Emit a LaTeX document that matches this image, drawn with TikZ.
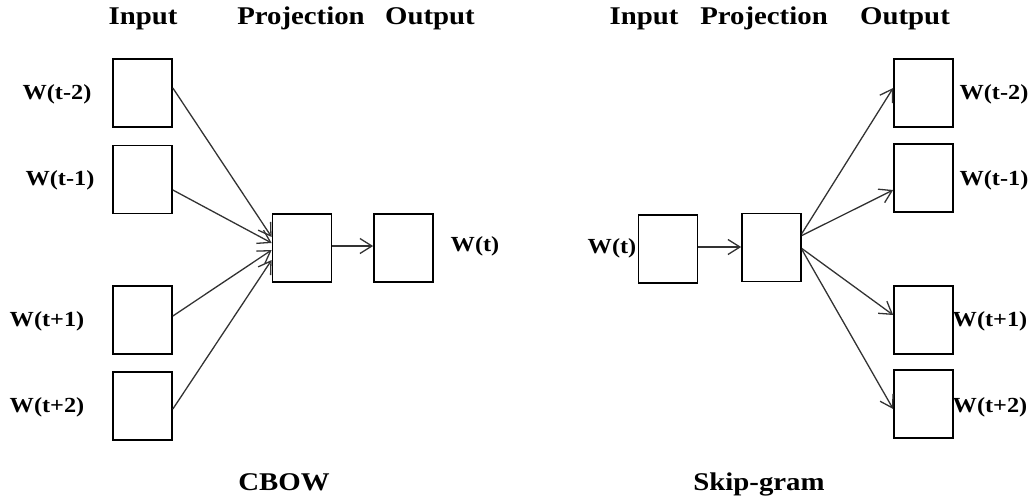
\documentclass[tikz,border=0pt]{standalone}
\usepackage{fontspec}
\setmainfont{Liberation Serif}
\usetikzlibrary{arrows.meta,calc}
\newcommand{\headtxt}[1]{\scalebox{1.13}[1]{\fontsize{25.5}{28}\selectfont\bfseries #1}}
\newcommand{\wordtxt}[1]{\scalebox{1.13}[1]{\fontsize{21.5}{24}\selectfont\bfseries #1}}
\begin{document}
\begin{tikzpicture}[x=1pt,y=-1pt,
  unit/.style={draw=black,line width=1.7pt,rectangle,inner sep=0pt,
    minimum width=59pt,minimum height=68pt},
  head/.style={anchor=base,inner sep=0pt},
  word/.style={anchor=base,inner sep=0pt},
  link/.style={draw=black!80,line width=1.3pt,
    -{Straight Barb[length=12pt,width=15pt,line width=1.3pt]}}]
\useasboundingbox (0,0) rectangle (1032,501);

% ---------------- CBOW ----------------
\node[head] (hin)   at (143,24) {\headtxt{Input}};
\node[head] (hproj) at (301,24) {\headtxt{Projection}};
\node[head] (hout)  at (430,24) {\headtxt{Output}};

\node[unit] (i1) at (142.5,93)  {};
\node[unit] (i2) at (142.5,179.5) {};
\node[unit] (i3) at (142.5,320) {};
\node[unit] (i4) at (142.5,406) {};
\node[unit] (p)  at (302,248)   {};
\node[unit] (o)  at (403.5,248) {};

\node[word] (li1) at (57,99)  {\wordtxt{W(t-2)}};
\node[word] (li2) at (60,185) {\wordtxt{W(t-1)}};
\node[word] (li3) at (47,326) {\wordtxt{W(t+1)}};
\node[word] (li4) at (47,412) {\wordtxt{W(t+2)}};
\node[word] (lo)  at (475,251) {\wordtxt{W(t)}};

\draw[link] ($(i1.east)+(0,-5)$)   -- ($(p.west)+(0,-11)$);
\draw[link] ($(i2.east)+(0,10.5)$) -- ($(p.west)+(0,-5)$);
\draw[link] ($(i3.east)+(0,-4)$)   -- ($(p.west)+(0,2)$);
\draw[link] ($(i4.east)+(0,3)$)    -- ($(p.west)+(0,12)$);
\draw[link] ($(p.east)+(0,-2)$)    -- ($(o.west)+(0,-2)$);

\node[head] (cbow) at (284,490) {\headtxt{CBOW}};

% ---------------- Skip-gram ----------------
\node[head] (sin)   at (644,24) {\headtxt{Input}};
\node[head] (sproj) at (764,24) {\headtxt{Projection}};
\node[head] (sout)  at (905,24) {\headtxt{Output}};

\node[unit] (w)  at (668,249)   {};
\node[unit] (q)  at (771.5,247.5) {};
\node[unit] (s1) at (923.5,93)  {};
\node[unit] (s2) at (923.5,178) {};
\node[unit] (s3) at (923.5,320) {};
\node[unit] (s4) at (923.5,404) {};

\node[word] (lw)  at (612,253) {\wordtxt{W(t)}};
\node[word] (ls1) at (994,99)  {\wordtxt{W(t-2)}};
\node[word] (ls2) at (994,185) {\wordtxt{W(t-1)}};
\node[word] (ls3) at (990,326) {\wordtxt{W(t+1)}};
\node[word] (ls4) at (990,412) {\wordtxt{W(t+2)}};

\draw[link] ($(w.east)+(0,-2)$)   -- ($(q.west)+(0,-0.5)$);
\draw[link] ($(q.east)+(0,-14)$)  -- ($(s1.west)+(0,-5)$);
\draw[link] ($(q.east)+(0,-12)$)  -- ($(s2.west)+(0,12)$);
\draw[link] ($(q.east)+(0,1)$)    -- ($(s3.west)+(0,-5)$);
\draw[link] ($(q.east)+(0,2)$)    -- ($(s4.west)+(0,5)$);

\node[head] (skip) at (759,490) {\headtxt{Skip-gram}};
\end{tikzpicture}
\end{document}
